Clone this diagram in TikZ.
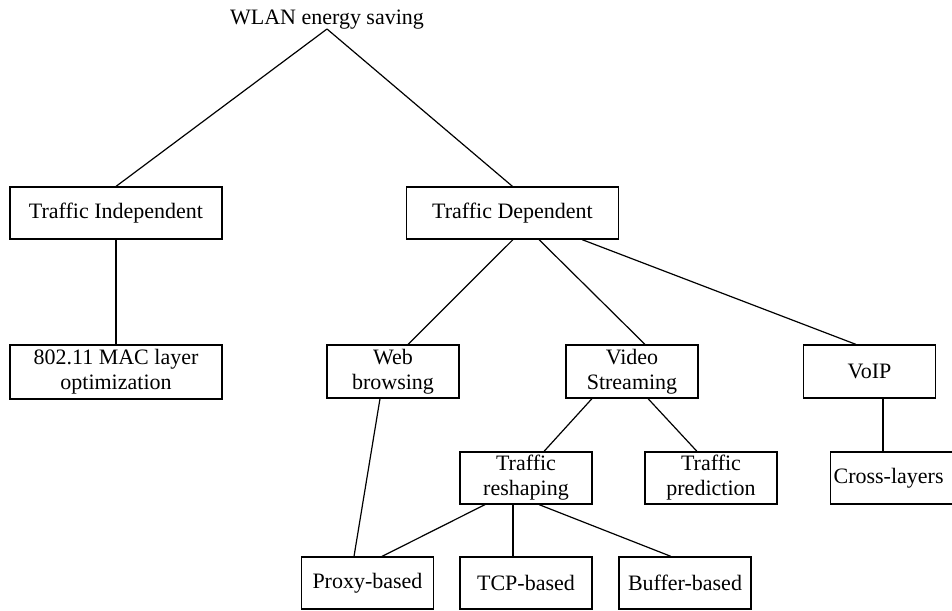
\documentclass[tikz,border=0pt]{standalone}
\usepackage{fontspec}
\setmainfont{Liberation Serif}
\begin{document}
\begin{tikzpicture}[x=1pt,y=-1pt,line width=1.2pt,
  lbl/.style={font=\fontsize{22}{25}\selectfont},
  box/.style={lbl, draw, line width=1.2pt, inner sep=0pt, align=center, minimum height=52pt},
  widebox/.style={box, minimum width=212pt},
  smallbox/.style={box, minimum width=132pt}]
\useasboundingbox (0,0) rectangle (952,610);
\clip (0,0) rectangle (952,610);
\node[lbl, anchor=base, inner sep=0pt] (root) at (327,25) {WLAN energy saving};
\coordinate (apex) at (327,29);
\node[widebox] (ti) at (116,213) {Traffic Independent};
\node[widebox] (td) at (512.5,213) {Traffic Dependent};
\node[widebox, minimum height=54pt] (mac) at (116,372) {802.11 MAC layer\\optimization};
\node[smallbox, minimum height=53pt] (web) at (393,371.5) {Web\\browsing};
\node[smallbox, minimum height=53pt] (video) at (632,371.5) {Video\\Streaming};
\node[smallbox, minimum height=53pt] (voip) at (869.5,371.5) {VoIP};
\node[smallbox] (resh) at (526,478) {Traffic\\reshaping};
\node[smallbox] (pred) at (711,478) {Traffic\\prediction};
\node[box, anchor=west, text width=134pt, align=left, inner xsep=3pt] (cross) at (830,478) {Cross-layers};
\node[smallbox] (proxy) at (367.5,583) {Proxy-based};
\node[smallbox] (tcp) at (526,583) {TCP-based};
\node[smallbox] (buffer) at (685,583) {Buffer-based};
\draw (apex) -- (ti.north);
\draw (apex) -- (td.north);
\draw (ti.south) -- (mac.north);
\draw ([xshift=0.5pt]td.south) -- ([xshift=15pt]web.north);
\draw ([xshift=26.5pt]td.south) -- ([xshift=13pt]video.north);
\draw ([xshift=69.5pt]td.south) -- ([xshift=-13.5pt]voip.north);
\draw ([xshift=-13pt]web.south) -- ([xshift=-13.5pt]proxy.north);
\draw ([xshift=-40pt]video.south) -- ([xshift=18pt]resh.north);
\draw ([xshift=16pt]video.south) -- ([xshift=-14pt]pred.north);
\draw ([xshift=13.5pt]voip.south) -- ([xshift=13.5pt]voip.south |- cross.north);
\draw ([xshift=-41pt]resh.south) -- ([xshift=14.5pt]proxy.north);
\draw ([xshift=-13pt]resh.south) -- ([xshift=-13pt]tcp.north);
\draw ([xshift=13pt]resh.south) -- ([xshift=-14pt]buffer.north);
\end{tikzpicture}
\end{document}
